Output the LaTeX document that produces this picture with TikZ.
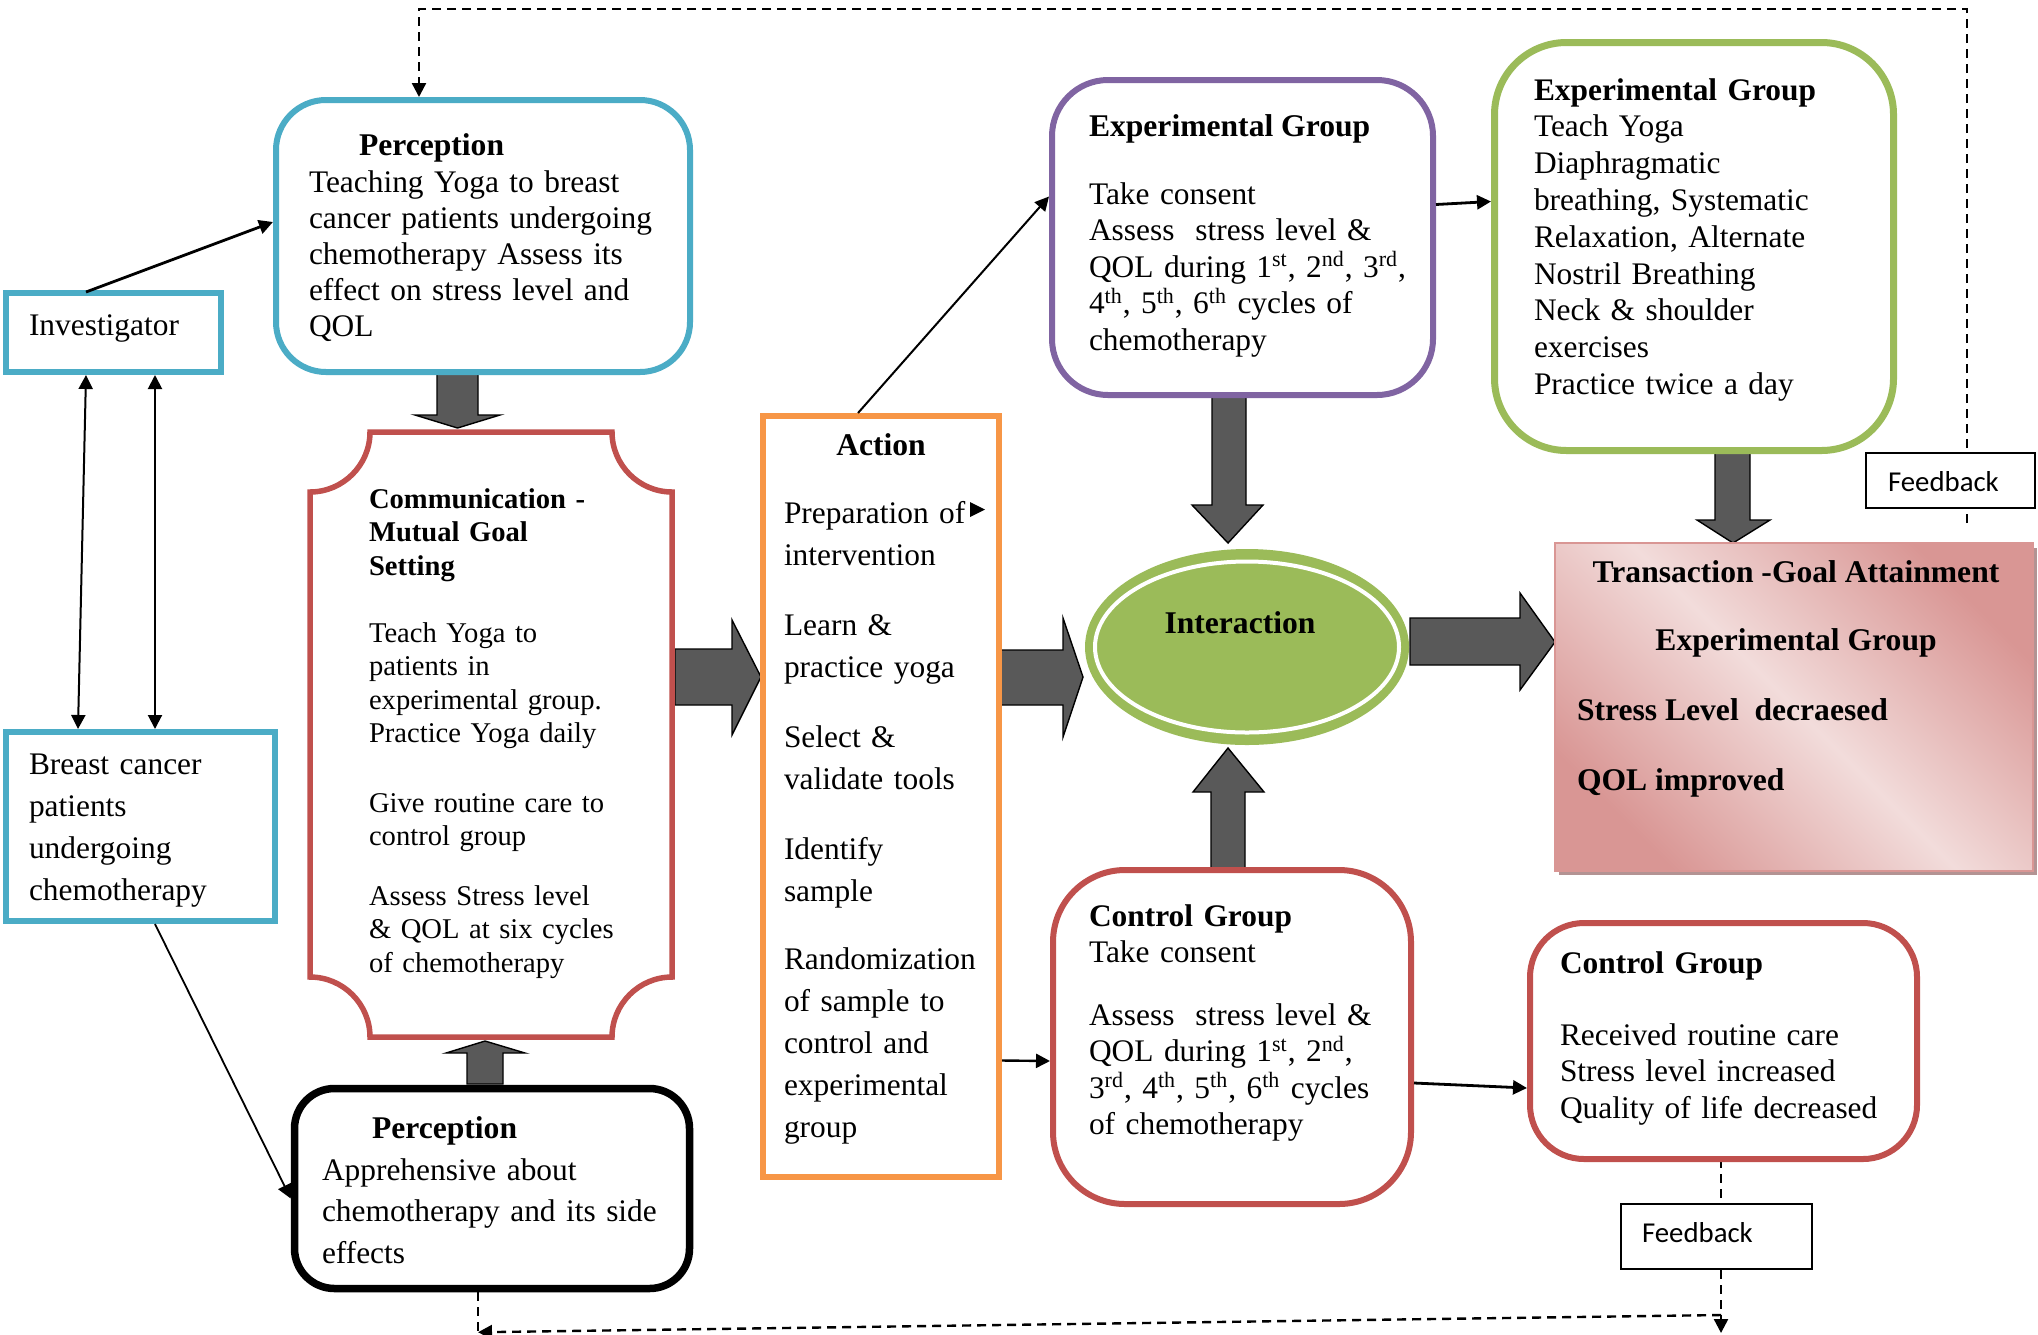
\documentclass[tikz,border=0pt]{standalone}
\usepackage{fontspec}
\setmainfont{Liberation Serif}
\newfontfamily\fbfont{Carlito}
\usetikzlibrary{arrows.meta,calc,shapes.geometric}
\definecolor{cyanc}{HTML}{4BACC6}
\definecolor{redc}{HTML}{C0504D}
\definecolor{purplec}{HTML}{8064A2}
\definecolor{greenc}{HTML}{9BBB59}
\definecolor{orangec}{HTML}{F79646}
\definecolor{blockc}{HTML}{595959}
\definecolor{pinkdark}{HTML}{D99694}
\definecolor{pinklight}{HTML}{F2DCDB}
\definecolor{shadowc}{HTML}{B39393}
\pgfdeclarelayer{background}
\pgfdeclarelayer{canvas}
\pgfsetlayers{canvas,background,main}
\begin{document}
\begin{tikzpicture}[x=0.5pt,y=-0.5pt,
  tl/.style={anchor=base west, inner sep=0pt, outer sep=0pt},
  tb/.style={anchor=base west, inner sep=0pt, outer sep=0pt, align=left, text width=250pt},
  tc/.style={anchor=base, inner sep=0pt, outer sep=0pt},
  bold16/.style={font=\bfseries\fontsize{15.8}{18}\selectfont},
  boxc/.style={rectangle, fill=white, inner sep=0pt},
  tip/.style={-{Triangle[length=7pt,width=7pt]}},
  tips/.style={{Triangle[length=7pt,width=7pt]}-{Triangle[length=7pt,width=7pt]}},
  dline/.style={dash pattern=on 4.5pt off 3pt, line width=1.2pt},
  blockarrow/.style={fill=blockc, draw=black, line width=0.7pt, line join=miter}
]
\useasboundingbox (0,0) rectangle (2038,1334);
\begin{pgfonlayer}{canvas}
\fill[white] (0,0) rectangle (2038,1334);
\end{pgfonlayer}

% ---------- boxes ----------
\node[boxc, draw=cyanc, line width=3pt, minimum width=107.5pt, minimum height=39.5pt] (inv) at (113.5,332.5) {};
\node[boxc, draw=cyanc, line width=3pt, minimum width=134.5pt, minimum height=94.5pt] (bc) at (140.5,826.5) {};
\node[boxc, draw=cyanc, line width=3pt, rounded corners=25pt, minimum width=207pt, minimum height=136pt] (pt1) at (483,236) {};
\node[boxc, draw=black, line width=3.75pt, rounded corners=20pt, minimum width=197.5pt, minimum height=100pt] (pb) at (492,1188.5) {};
\draw[draw=redc, line width=2.75pt, fill=white, line join=miter]
  (370,432) -- (612,432) .. controls (612,465) and (639,492) .. (672,492)
  -- (672,977) .. controls (639,977) and (612,1004) .. (612,1037)
  -- (370,1037) .. controls (370,1004) and (343,977) .. (310,977)
  -- (310,492) .. controls (343,492) and (370,465) .. (370,432) -- cycle;
\coordinate (comm) at (491,734);
\node[boxc, draw=orangec, line width=3pt, minimum width=118pt, minimum height=380.5pt] (act) at (881,796.5) {};
\node[boxc, draw=purplec, line width=3pt, rounded corners=28pt, minimum width=190.5pt, minimum height=157.5pt] (pg) at (1242.5,237.5) {};
\node[boxc, draw=greenc, line width=3.5pt, rounded corners=36pt, minimum width=199.5pt, minimum height=204pt] (gg) at (1694,246.5) {};
\node[boxc, draw=redc, line width=3pt, rounded corners=36pt, minimum width=179pt, minimum height=167pt] (cl) at (1232,1037) {};
\node[boxc, draw=redc, line width=3pt, rounded corners=27pt, minimum width=193.5pt, minimum height=118pt] (cr) at (1723.5,1041) {};
\node[ellipse, fill=greenc, inner sep=0pt, minimum width=162pt, minimum height=98pt] (inter) at (1247,647) {};
\node[ellipse, draw=white, line width=2pt, inner sep=0pt, minimum width=152pt, minimum height=85.5pt] (interring) at (1247,647) {};
% transaction box
\fill[shadowc] (1559,548) rectangle (2037,875);
\shade[top color=pinkdark, bottom color=pinkdark, middle color=pinklight, shading angle=-45] (1555,543) rectangle (2033,871);
\node[draw=pinkdark, line width=1pt, inner sep=0pt, minimum width=239pt, minimum height=164pt] (tr) at (1794,707) {};
\node[boxc, draw=black, line width=1pt, minimum width=84.5pt, minimum height=27.5pt] (fb1) at (1950.5,480.5) {};
\node[boxc, draw=black, line width=1pt, minimum width=95.5pt, minimum height=32.5pt] (fb2) at (1716.5,1236.5) {};

% ---------- background: dashed feedback lines and block arrows ----------
\begin{pgfonlayer}{background}
\draw[dline, tip] ($(fb1.south)+(16.5,14)$) -- ++(0,-514) -| ($(pt1.north west)+(146,0)$);
\draw[dline] ($(cr.south)+(-2.5,-3)$) -- ($(fb2.north)+(4.5,0)$);
\draw[dline, tip] ($(fb2.south)+(4.5,0)$) -- ++(0,63);
\draw[dline, tip] ($(fb2.south)+(4.5,45)$) -- ($(pb.south)+(-14,40)$);
\draw[dline] ($(pb.south)+(-14,0)$) -- ++(0,40);
% block arrows
\filldraw[blockarrow] (437,373) -- (478,373) -- (478,415) -- (500,415) -- (457.5,428) -- (415,415) -- (437,415) -- cycle;
\filldraw[blockarrow] (467,1084) -- (467,1053) -- (446,1053) -- (485,1041) -- (525,1053) -- (503,1053) -- (503,1084) -- cycle;
\filldraw[blockarrow] (675,649) -- (732,649) -- (732,620) -- (761,677) -- (732,735) -- (732,705) -- (675,705) -- cycle;
\filldraw[blockarrow] (1000,650) -- (1063,650) -- (1063,618) -- (1083,677) -- (1063,737) -- (1063,705) -- (1000,705) -- cycle;
\filldraw[blockarrow] (1212,396) -- (1246,396) -- (1246,505) -- (1263,505) -- (1228,543) -- (1192,505) -- (1212,505) -- cycle;
\filldraw[blockarrow] (1211,868) -- (1211,792) -- (1193,792) -- (1228,748) -- (1264,792) -- (1245,792) -- (1245,868) -- cycle;
\filldraw[blockarrow] (1410,618) -- (1520,618) -- (1520,593) -- (1555,642) -- (1520,690) -- (1520,665) -- (1410,665) -- cycle;
\filldraw[blockarrow] (1715,450) -- (1750,450) -- (1750,520) -- (1770,520) -- (1733,543) -- (1697,520) -- (1715,520) -- cycle;
\end{pgfonlayer}

% ---------- texts ----------
\node[tl, font=\fontsize{15.7}{18}\selectfont] (invt) at (29,335) {Investigator};
\node[tb, font=\fontsize{15.7}{21}\selectfont] (bct) at (29,774) {Breast cancer\\patients\\undergoing\\chemotherapy};
\node[tl, bold16] (pt1h) at (359,155) {Perception};
\node[tb, font=\fontsize{15.7}{18}\selectfont] (pt1t) at (309,192) {Teaching Yoga to breast\\cancer patients undergoing\\chemotherapy Assess its\\effect on stress level and\\QOL};
\node[tb, font=\fontsize{14.3}{16.75}\selectfont] (commt) at (369,508) {\textbf{Communication -}\\\textbf{Mutual Goal}\\\textbf{Setting}\\[16.75pt]Teach Yoga to\\patients in\\experimental group.\\Practice Yoga daily\\[18pt]Give routine care to\\control group\\[13pt]Assess Stress level\\\& QOL at six cycles\\of chemotherapy};
\node[tl, bold16] (pbh) at (372,1138) {Perception};
\node[tb, font=\fontsize{15.7}{20.75}\selectfont] (pbt) at (322,1180) {Apprehensive about\\chemotherapy and its side\\effects};
\node[tc, bold16] (acth) at (881,455) {Action};
\node[tb, font=\fontsize{15.7}{21}\selectfont] (actt) at (784,523) {Preparation of\\intervention\\[14pt]Learn \&\\practice yoga\\[14pt]Select \&\\validate tools\\[14pt]Identify\\sample\\[13pt]Randomization\\of sample to\\control and\\experimental\\group};
\node[tl, bold16] (pgh) at (1089,136) {Experimental Group};
\node[tb, font=\fontsize{15.7}{18.25}\selectfont] (pgt) at (1089,204) {Take consent\\Assess\ \ stress level \&\\QOL during 1\textsuperscript{st}, 2\textsuperscript{nd}, 3\textsuperscript{rd},\\4\textsuperscript{th}, 5\textsuperscript{th}, 6\textsuperscript{th} cycles of\\chemotherapy};
\node[tb, font=\fontsize{15.7}{18.4}\selectfont] (ggt) at (1534,100) {\textbf{Experimental Group}\\Teach Yoga\\Diaphragmatic\\breathing, Systematic\\Relaxation, Alternate\\Nostril Breathing\\Neck \& shoulder\\exercises\\Practice twice a day};
\node[tc, bold16] (intert) at (1240,633) {Interaction};
\node[tc, bold16] (trh) at (1796,582) {Transaction -Goal Attainment};
\node[tc, bold16] (treg) at (1796,650) {Experimental Group};
\node[tl, bold16] (trs) at (1577,720) {Stress Level\ \ decraesed};
\node[tl, bold16] (trq) at (1577,790) {QOL improved};
\node[tb, font=\fontsize{15.7}{18.25}\selectfont] (clt) at (1089,926) {\textbf{Control Group}\\Take consent\\[13pt]Assess\ \ stress level \&\\QOL during 1\textsuperscript{st}, 2\textsuperscript{nd},\\3\textsuperscript{rd}, 4\textsuperscript{th}, 5\textsuperscript{th}, 6\textsuperscript{th} cycles\\of chemotherapy};
\node[tb, font=\fontsize{15.7}{18.25}\selectfont] (crt) at (1560,973) {\textbf{Control Group}\\[17.75pt]Received routine care\\Stress level increased\\Quality of life decreased};
\node[tl, font=\fbfont\fontsize{14.4}{16}\selectfont] (fb1t) at (1888,491) {Feedback};
\node[tl, font=\fbfont\fontsize{14.4}{16}\selectfont] (fb2t) at (1642,1242) {Feedback};

% ---------- thin connectors ----------
\draw[tip, line width=1.4pt] ($(inv.north west)+(83,2)$) -- ($(pt1.west)+(0,-14)$);
\draw[tips, line width=1pt] ($(inv.south west)+(83,0)$) -- ($(bc.north west)+(75,0)$);
\draw[tips, line width=1pt] ($(inv.south west)+(152,0)$) -- ($(bc.north west)+(152,0)$);
\draw[tip, line width=0.9pt] ($(bc.south west)+(152,0)$) -- ($(pb.west)+(0,10)$);
\draw[tip, line width=1pt] ($(act.north west)+(98,0)$) -- ($(pg.west)+(0,-41)$);
\draw[tip, line width=1.4pt] ($(pg.east)+(0,-33)$) -- ($(gg.west)+(0,-45)$);
\draw[tip, line width=1.2pt] ($(act.east)+(0,264)$) -- ($(cl.west)+(0,24)$);
\draw[tip, line width=1.4pt] ($(cl.east)+(0,46)$) -- ($(cr.west)+(0,47)$);
\fill (970,502) -- (985,509.5) -- (970,517) -- cycle;
\end{tikzpicture}
\end{document}
